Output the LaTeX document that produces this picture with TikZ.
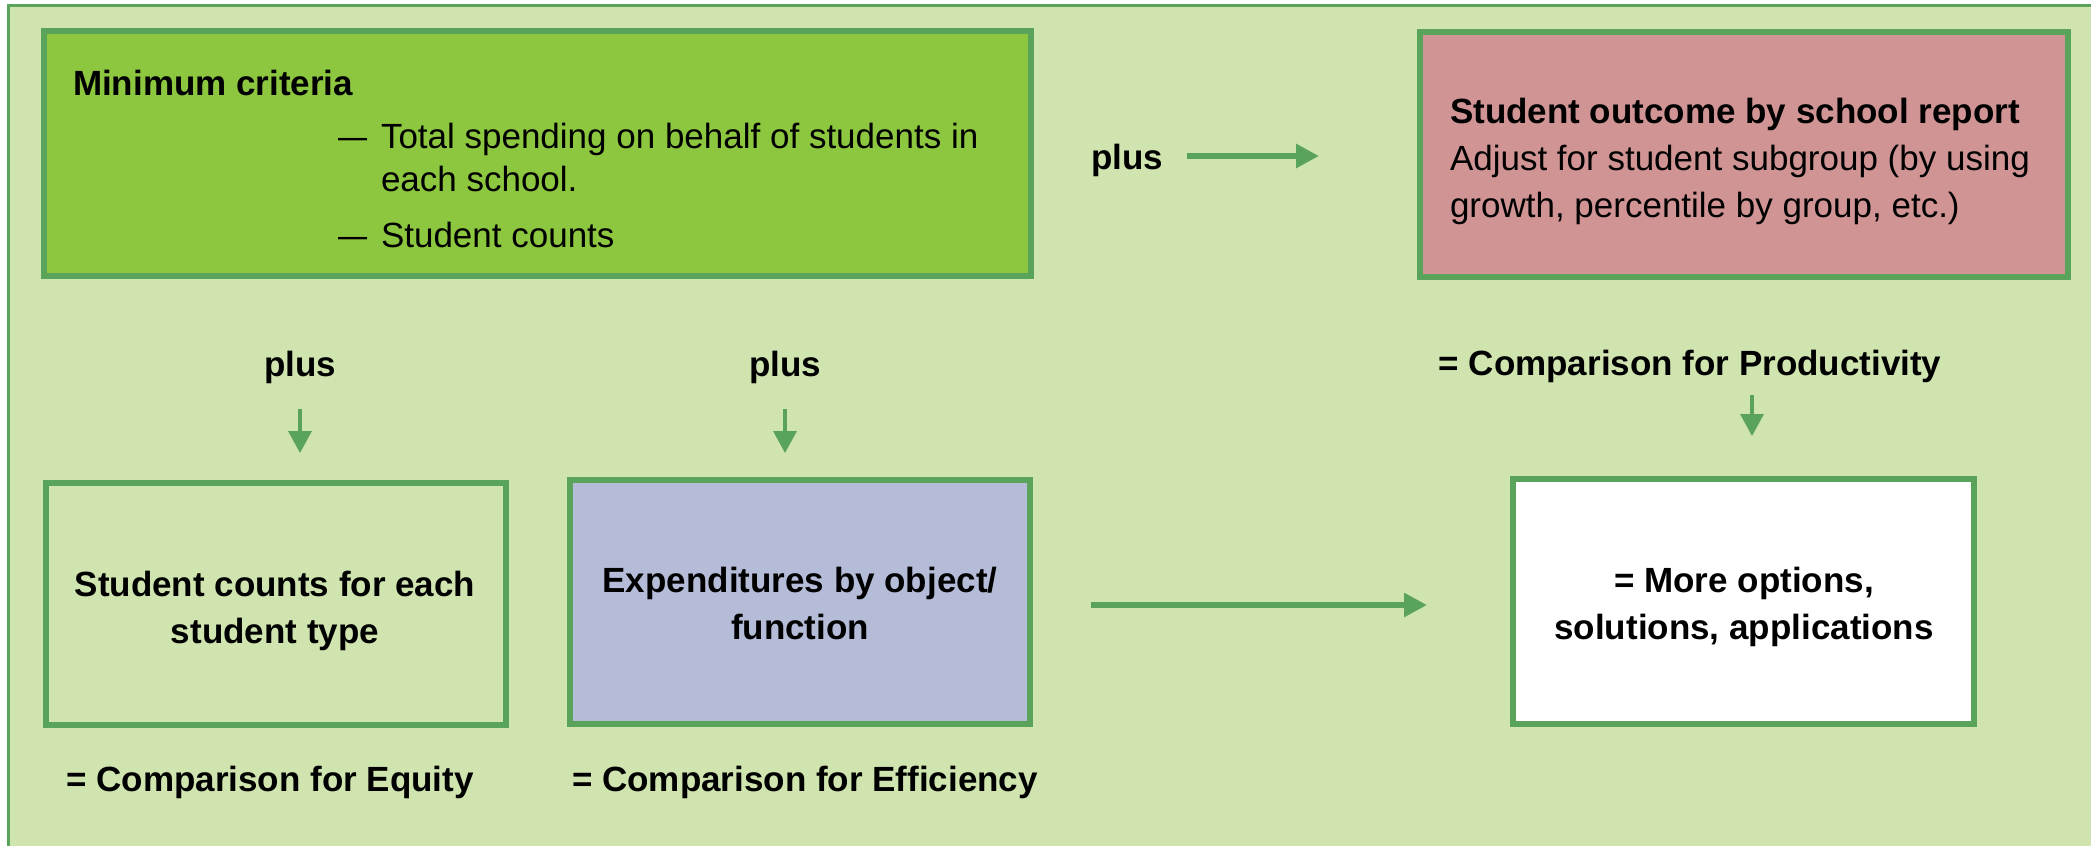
\documentclass[tikz,border=0pt]{standalone}
\usepackage{graphicx}
\usepackage{fontspec}
\setmainfont{Liberation Sans}
\usetikzlibrary{arrows.meta}
\definecolor{bg}{RGB}{207,228,175}
\definecolor{gline}{RGB}{89,163,91}
\definecolor{lime}{RGB}{141,198,63}
\definecolor{rose}{RGB}{208,148,148}
\definecolor{lav}{RGB}{180,188,216}
\tikzset{
  box/.style={draw=gline, line width=6, rectangle, inner sep=0},
  txt/.style={inner sep=0, outer sep=0, font=\fontsize{35}{42}\selectfont, text=black},
  btxt/.style={txt, font=\fontsize{35}{42}\selectfont\bfseries},
  bigarr/.style={draw=gline, line width=6, -{Triangle[length=23pt,width=23pt]}},
  smallarr/.style={draw=gline, line width=3.5, -{Triangle[length=22pt,width=23pt]}}
}
\begin{document}
\begin{tikzpicture}[x=1pt,y=-1pt]
\useasboundingbox (0,0) rectangle (2091,846);
\fill[white] (0,0) rectangle (2091,846);
\fill[bg] (8.5,5.5) rectangle (2091,846);
\draw[gline, line width=3] (8.5,846) -- (8.5,5.5) -- (2091,5.5);

% boxes
\node[box, fill=lime, minimum width=987, minimum height=245] (min) at (537.5,153.5) {};
\node[box, fill=rose, minimum width=648, minimum height=245] (red) at (1744,154.5) {};
\node[box, fill=bg, minimum width=460, minimum height=242] (eq) at (276,604) {};
\node[box, fill=lav, minimum width=460, minimum height=244] (eff) at (800,602) {};
\node[box, fill=white, minimum width=461, minimum height=245] (more) at (1743.5,601.5) {};

% minimum criteria text
\node[btxt, anchor=base west] (minT) at (73,95) {Minimum criteria};
\node[txt, anchor=base west] (d1) at (338,148) {\scalebox{0.83}[1]{—}};
\node[txt, anchor=base west] (m1) at (381,148) {Total spending on behalf of students in};
\node[txt, anchor=base west] (m2) at (381,191) {each school.};
\node[txt, anchor=base west] (d2) at (338,247) {\scalebox{0.83}[1]{—}};
\node[txt, anchor=base west] (m3) at (381,247) {Student counts};

% red box text
\node[btxt, anchor=base west] (r1) at (1450,123) {Student outcome by school report};
\node[txt, anchor=base west] (r2) at (1450,170) {Adjust for student subgroup (by using};
\node[txt, anchor=base west] (r3) at (1450,217) {growth, percentile by group, etc.)};

% plus labels
\node[btxt, anchor=base] (plusT) at (1127,169) {plus};
\node[btxt, anchor=base] (plusL) at (300,376) {plus};
\node[btxt, anchor=base] (plusM) at (785,376) {plus};
\node[btxt, anchor=base] (prod) at (1690,375) {= Comparison for Productivity};

% box texts
\node[btxt, anchor=base] (eq1) at (275,596) {Student counts for each};
\node[btxt, anchor=base] (eq2) at (275,643) {student type};
\node[btxt, anchor=base] (ef1) at (800,592) {Expenditures by object/};
\node[btxt, anchor=base] (ef2) at (800,639) {function};
\node[btxt, anchor=base] (mo1) at (1744,592) {= More options,};
\node[btxt, anchor=base] (mo2) at (1744,639) {solutions, applications};

% bottom labels
\node[btxt, anchor=base] (eqL) at (270,791) {= Comparison for Equity};
\node[btxt, anchor=base] (efL) at (805,791) {= Comparison for Efficiency};

% arrows
\draw[bigarr, shorten <=24, shorten >=98] (plusT.east |- 0,156) -- (red.west |- 0,156);
\draw[bigarr, shorten <=58, shorten >=83] (eff.east |- 0,605) -- (more.west |- 0,605);
\draw[smallarr, shorten <=26, shorten >=27] (plusL.south) -- (plusL.south |- eq.north);
\draw[smallarr, shorten <=26, shorten >=24] (plusM.south) -- (plusM.south |- eff.north);
\draw[smallarr, shorten <=12.6, shorten >=40] (prod.south -| 1752,0) -- (more.north -| 1752,0);
\end{tikzpicture}
\end{document}
